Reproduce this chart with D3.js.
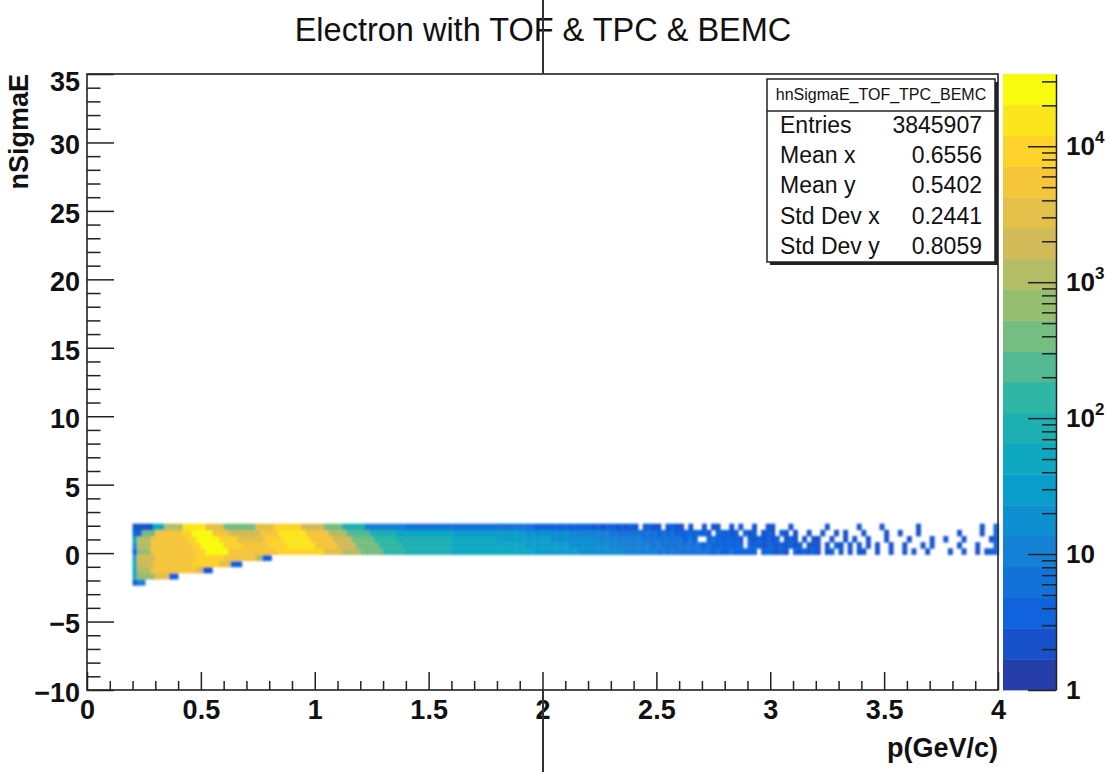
<!DOCTYPE html>
<html>
<head>
<meta charset="utf-8">
<script src="https://cdn.jsdelivr.net/npm/d3@7"></script>
<style>
  body { margin: 0; background: #fff; }
  svg { display: block; font-family: "Liberation Sans", Arial, Helvetica, sans-serif; }
</style>
</head>
<body>
<div id="chart"></div>
<script>
const title = 'Electron with TOF & TPC & BEMC'
const xTitle = 'p(GeV/c)'
const yTitle = 'nSigmaE'
const histName = 'hnSigmaE_TOF_TPC_BEMC'
const statLabels = ['Entries', 'Mean x', 'Mean y', 'Std Dev x', 'Std Dev y']
const statValues = ['3845907', '0.6556', '0.5402', '0.2441', '0.8059']

const xTicks = [0, 0.5, 1, 1.5, 2, 2.5, 3, 3.5, 4]
const yTicks = [-10, -5, 0, 5, 10, 15, 20, 25, 30, 35]
const zLabels = [[1, '1', ''], [10, '10', ''], [100, '10', '2'], [1000, '10', '3'], [10000, '10', '4']]

// ROOT kBird palette
const birdStops = [0, 0.125, 0.25, 0.375, 0.5, 0.625, 0.75, 0.875, 1]
const birdColors = ['#352a87', '#0f5cdd', '#1481d6', '#06a4ca', '#2eb7a4', '#87bf77', '#d1bb59', '#fec832', '#f9fb0e']
const nContours = 20
const zMax = 34000

// y bin edges of the rows that have entries (bin width 0.45)
const yEdges = [-2.35, -1.9, -1.45, -1.0, -0.55, -0.1, 0.35, 0.8, 1.25, 1.7, 2.15]

// dense part, per row: [p from, p to, colour level 0..19]
const denseRuns = [
  [[0.20, 0.22, 2], [0.22, 0.255, 4]],
  [[0.20, 0.22, 8], [0.22, 0.30, 12], [0.30, 0.36, 15], [0.36, 0.40, 2]],
  [[0.20, 0.22, 7], [0.22, 0.28, 13], [0.28, 0.48, 16], [0.48, 0.51, 14], [0.51, 0.55, 1]],
  [[0.20, 0.22, 8], [0.22, 0.29, 14], [0.29, 0.46, 16], [0.46, 0.58, 17], [0.58, 0.63, 15], [0.63, 0.68, 2]],
  [[0.20, 0.22, 7], [0.22, 0.30, 14], [0.30, 0.48, 16], [0.48, 0.60, 17], [0.60, 0.74, 16], [0.74, 0.77, 13], [0.77, 0.81, 2]],
  [[0.20, 0.22, 2], [0.22, 0.28, 12], [0.28, 0.48, 16], [0.48, 0.52, 17], [0.52, 0.62, 19], [0.62, 0.72, 16], [0.72, 0.84, 16], [0.84, 0.94, 17], [0.94, 1.04, 17], [1.04, 1.12, 15], [1.12, 1.20, 13], [1.20, 1.30, 11], [1.30, 1.40, 9], [1.40, 1.60, 8], [1.60, 1.80, 7]],
  [[0.20, 0.22, 5], [0.22, 0.28, 13], [0.28, 0.46, 16], [0.46, 0.50, 17], [0.50, 0.60, 19], [0.60, 0.68, 17], [0.68, 0.80, 16], [0.80, 0.88, 17], [0.88, 1.00, 18], [1.00, 1.10, 16], [1.10, 1.18, 14], [1.18, 1.28, 11], [1.28, 1.38, 9], [1.38, 1.60, 8], [1.60, 1.80, 7]],
  [[0.20, 0.22, 7], [0.22, 0.28, 13], [0.28, 0.44, 16], [0.44, 0.48, 17], [0.48, 0.58, 19], [0.58, 0.66, 17], [0.66, 0.78, 15], [0.78, 0.86, 17], [0.86, 0.98, 18], [0.98, 1.08, 16], [1.08, 1.16, 14], [1.16, 1.26, 11], [1.26, 1.36, 9], [1.36, 1.60, 8], [1.60, 1.80, 7]],
  [[0.20, 0.24, 2], [0.24, 0.30, 11], [0.30, 0.42, 16], [0.42, 0.46, 17], [0.46, 0.55, 19], [0.55, 0.62, 16], [0.62, 0.76, 14], [0.76, 0.84, 16], [0.84, 0.96, 18], [0.96, 1.06, 16], [1.06, 1.14, 13], [1.14, 1.24, 10], [1.24, 1.36, 8], [1.36, 1.60, 7], [1.60, 1.80, 6]],
  [[0.20, 0.29, 1], [0.29, 0.34, 7], [0.34, 0.42, 13], [0.42, 0.52, 18], [0.52, 0.60, 15], [0.60, 0.74, 11], [0.74, 0.82, 15], [0.82, 0.94, 17], [0.94, 1.04, 14], [1.04, 1.12, 11], [1.12, 1.22, 8], [1.22, 1.40, 4], [1.40, 1.60, 3], [1.60, 1.80, 3]]
]

// sparse tail from p = 1.8 in 0.02 steps, rows 5..9, '.' = empty, digit = colour level
const sparseStart = 1.8
const sparseStep = 0.02
const sparseRows = {
  5: '7777777766 6666666655 5555555544 4444434343 3333333232 2322222.22 2121.21212 1.12.1.1.1 1..1..1..1 .1..1....1 ..1..1.122',
  6: '7777776666 6666665555 5555544444 4444343333 3333323222 2222.22212 2121212.11 1.1.21.1.1 .1.1..1..1 ...1.1.... .1...1...2',
  7: '6666666666 6655555555 5544444444 4433333333 3232..2322 2221.21212 12.121.1.1 1..1..1.1. .1...1.... 1....1..1. ..1.....12',
  8: '6666665555 5555554444 4444433333 3333323232 2222221.22 212.212.12 1.21.1..1. .1..1.1... 1....1..1. ..1....... .1....1..2',
  9: '3333333322 2222222222 2121221212 1.1211.121 1.1..1.11. .1.1..1..1 1...1..... ..1......1 ....1..... ..1....... ......1..2'
}

const W = 1109, H = 772
const x = d3.scaleLinear().domain([0, 4]).range([87, 998])
const y = d3.scaleLinear().domain([-10, 35]).range([690, 74])
const zLogMax = Math.log10(zMax)
const z = d3.scaleLog().domain([1, zMax]).range([690, 74])

const bird = d3.scaleLinear().domain(birdStops).range(birdColors).interpolate(d3.interpolateRgb)
const palette = d3.range(nContours).map(i => bird(Math.min(1, (i + 0.99) / nContours)))
const colour = d3.scaleQuantize().domain([0, zLogMax]).range(palette)
const levelCount = lvl => Math.pow(10, (lvl + 0.5) / nContours * zLogMax)

// build cells
const cells = []
denseRuns.forEach((runs, r) => {
  runs.forEach(([p0, p1, lvl]) => cells.push({ p0, p1, r, n: levelCount(lvl) }))
})
Object.entries(sparseRows).forEach(([r, s]) => {
  s.replace(/ /g, '').split('').forEach((ch, j) => {
    if (ch === '.') return
    const p0 = sparseStart + j * sparseStep
    cells.push({ p0, p1: p0 + sparseStep, r: +r, n: levelCount(+ch) })
  })
})

const svg = d3.select('#chart').append('svg')
  .attr('width', W)
  .attr('height', H)

svg.append('rect').attr('width', W).attr('height', H).attr('fill', '#fff')

svg.append('defs').append('filter').attr('id', 'soft')
  .append('feGaussianBlur').attr('stdDeviation', 0.85)

// heat map
svg.append('g')
  .attr('filter', 'url(#soft)')
  .selectAll('rect')
  .data(cells)
  .enter()
  .append('rect')
    .attr('x', d => x(d.p0))
    .attr('width', d => x(d.p1) - x(d.p0) + 0.4)
    .attr('y', d => y(yEdges[d.r + 1]))
    .attr('height', d => y(yEdges[d.r]) - y(yEdges[d.r + 1]) + 0.4)
    .attr('fill', d => colour(Math.log10(d.n)))

// axes
const axisFont = g => g.selectAll('text')
  .attr('font-size', 27).attr('font-weight', 'bold').attr('fill', '#111')
  .attr('font-family', '"Liberation Sans", Arial, sans-serif')

const xMinor = d3.range(0, 40.5, 1).map(v => v / 10).filter(v => Math.round(v * 10) % 5 !== 0)
svg.append('g').attr('transform', 'translate(0,690)')
  .call(d3.axisBottom(x).tickValues(xMinor).tickSizeInner(-9).tickSizeOuter(0).tickFormat(''))
  .call(g => g.select('.domain').remove())
svg.append('g').attr('transform', 'translate(0,690)')
  .call(d3.axisBottom(x).tickValues(xTicks).tickSizeInner(-18).tickSizeOuter(0).tickPadding(10).tickFormat(d => String(d)))
  .call(g => g.select('.domain').remove())
  .call(axisFont)

const yMinor = d3.range(-10, 36, 1).filter(v => v % 5 !== 0)
svg.append('g').attr('transform', 'translate(87,0)')
  .call(d3.axisLeft(y).tickValues(yMinor).tickSizeInner(-13.5).tickSizeOuter(0).tickFormat(''))
  .call(g => g.select('.domain').remove())
svg.append('g').attr('transform', 'translate(87,0)')
  .call(d3.axisLeft(y).tickValues(yTicks).tickSizeInner(-27).tickSizeOuter(0).tickPadding(7)
    .tickFormat(d => d < 0 ? '\u2212' + Math.abs(d) : String(d)))
  .call(g => g.select('.domain').remove())
  .call(axisFont)
  .call(g => g.selectAll('text').attr('dy', d => d === 35 ? '0.6em' : '0.42em'))

svg.selectAll('.tick line').attr('stroke', '#222').attr('stroke-width', 1.5)

// frame
svg.append('rect')
  .attr('x', 87).attr('y', 74).attr('width', 998 - 87).attr('height', 690 - 74)
  .attr('fill', 'none').attr('stroke', '#222').attr('stroke-width', 1.6)

// colour bar
const bands = d3.range(nContours).map(i => ({
  lo: Math.pow(10, i / nContours * zLogMax),
  hi: Math.pow(10, (i + 1) / nContours * zLogMax),
  c: palette[i]
}))
svg.append('g').selectAll('rect')
  .data(bands)
  .enter()
  .append('rect')
    .attr('x', 1003)
    .attr('width', 53)
    .attr('y', d => z(d.hi))
    .attr('height', d => z(d.lo) - z(d.hi) + 0.4)
    .attr('fill', d => d.c)

const zTicks = z.ticks().filter(v => v <= zMax)
svg.append('g').attr('transform', 'translate(1056,0)')
  .call(d3.axisLeft(z).tickValues(zTicks).tickSizeInner(14).tickSizeOuter(0).tickFormat(''))
  .call(g => g.select('.domain').attr('stroke', '#222').attr('stroke-width', 1.5))
  .call(g => g.selectAll('.tick line')
    .attr('stroke', '#222').attr('stroke-width', 1.5)
    .attr('x2', d => Math.abs(Math.log10(d) - Math.round(Math.log10(d))) < 1e-9 ? -28 : -14))

const zl = svg.append('g').selectAll('text')
  .data(zLabels)
  .enter()
  .append('text')
    .attr('x', 1066)
    .attr('y', d => z(d[0]) + 9)
    .attr('font-size', 26).attr('font-weight', 'bold').attr('fill', '#111')
zl.append('tspan').text(d => d[1])
zl.append('tspan').text(d => d[2]).attr('font-size', 17).attr('dy', -12)

// stats box
svg.append('rect').attr('x', 770).attr('y', 82).attr('width', 228).attr('height', 183).attr('fill', '#222')
svg.append('rect').attr('x', 767).attr('y', 79).attr('width', 228).attr('height', 183)
  .attr('fill', '#fff').attr('stroke', '#222').attr('stroke-width', 1.5)
svg.append('line').attr('x1', 767).attr('x2', 995).attr('y1', 111).attr('y2', 111)
  .attr('stroke', '#222').attr('stroke-width', 1.5)
svg.append('text').attr('x', 881).attr('y', 100).attr('text-anchor', 'middle')
  .attr('font-size', 16).attr('fill', '#111').text(histName)
svg.append('g').selectAll('text')
  .data(statLabels)
  .enter()
  .append('text')
    .attr('x', 780).attr('y', (d, i) => 133 + i * 30.2)
    .attr('font-size', 23).attr('fill', '#111').text(d => d)
svg.append('g').selectAll('text')
  .data(statValues)
  .enter()
  .append('text')
    .attr('x', 982).attr('y', (d, i) => 133 + i * 30.2).attr('text-anchor', 'end')
    .attr('font-size', 23).attr('fill', '#111').text(d => d)

// titles
svg.append('text').attr('x', 543).attr('y', 41).attr('text-anchor', 'middle')
  .attr('font-size', 32.5).attr('fill', '#111').text(title)
svg.append('text').attr('x', 998).attr('y', 757).attr('text-anchor', 'end')
  .attr('font-size', 27).attr('font-weight', 'bold').attr('fill', '#111').text(xTitle)
svg.append('text').attr('transform', 'translate(28,74) rotate(-90)').attr('text-anchor', 'end')
  .attr('font-size', 27).attr('font-weight', 'bold').attr('fill', '#111').text(yTitle)

// vertical marker line through the canvas
svg.append('line').attr('x1', 543).attr('x2', 543).attr('y1', 0).attr('y2', 74)
  .attr('stroke', '#333').attr('stroke-width', 2)
svg.append('line').attr('x1', 543).attr('x2', 543).attr('y1', 690).attr('y2', H)
  .attr('stroke', '#333').attr('stroke-width', 2)
</script>
</body>
</html>
